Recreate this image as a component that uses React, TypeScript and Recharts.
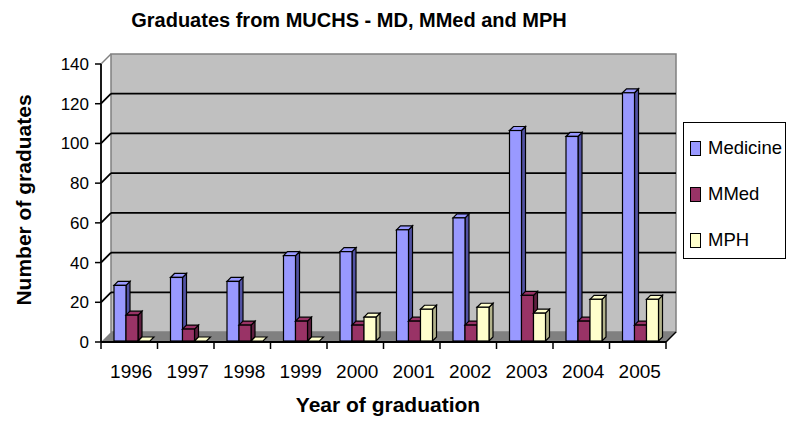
import React from 'react';
import { BarChart, Bar, XAxis, YAxis, CartesianGrid } from 'recharts';

const years = ['1996', '1997', '1998', '1999', '2000', '2001', '2002', '2003', '2004', '2005'];
const medicine = [28, 32, 30, 43, 45, 56, 62, 106, 103, 125];
const mmed = [13, 6, 8, 10, 8, 10, 8, 23, 10, 8];
const mph = [0, 0, 0, 0, 12, 16, 17, 14, 21, 21];
const yTicks = [0, 20, 40, 60, 80, 100, 120, 140];
const seriesNames = ['Medicine', 'MMed', 'MPH'];

const data = years.map((y, i) => ({ year: y, medicine: medicine[i], mmed: mmed[i], mph: mph[i] }));

const W = 800;
const H = 433;
const M = { top: 64, right: 134, bottom: 51, left: 0 };
const Y_AXIS_W = 101;
const X_AXIS_H = 40;
const PLOT_W = W - M.right - Y_AXIS_W - M.left;
const HALF_BAND = PLOT_W / years.length / 2;
const D = 10; // depth of the 3D box
const BD = 4; // depth of bars
const FONT = '"Liberation Sans", Arial, Helvetica, sans-serif';

const colors = [
  { front: '#9999FF', side: '#5252A3', top: '#9999FF' },
  { front: '#993366', side: '#5E1F3F', top: '#993366' },
  { front: '#FFFFCC', side: '#B3B38C', top: '#FFFFCC' },
];

const make3D = (c: { front: string; side: string; top: string }) => (props: any) => {
  const { x, y, width, height } = props;
  if (x == null || y == null) return <g />;
  const fx = x + 3;
  const fy = y - 1;
  const w = width;
  const h = Math.max(height || 0, 0);
  return (
    <g>
      {h > 0 && (
        <polygon
          points={`${fx + w},${fy} ${fx + w + BD},${fy - BD} ${fx + w + BD},${fy + h - BD} ${fx + w},${fy + h}`}
          fill={c.side}
          stroke="#000"
          strokeWidth={1.2}
        />
      )}
      <polygon
        points={`${fx},${fy} ${fx + BD},${fy - BD} ${fx + w + BD},${fy - BD} ${fx + w},${fy}`}
        fill={c.top}
        stroke="#000"
        strokeWidth={1.2}
      />
      {h > 0 && <rect x={fx} y={fy} width={w} height={h} fill={c.front} stroke="#000" strokeWidth={1.2} />}
    </g>
  );
};

const wallGrid = (p: any) => {
  if (p.index !== 0) return <g key={p.key} />;
  const { x, y, width, height } = p;
  const bottom = y + height;
  return (
    <g key={p.key}>
      <rect x={x + D} y={y - D} width={width} height={height} fill="#C0C0C0" stroke="#808080" strokeWidth={1.5} />
      <line x1={x} y1={y} x2={x + D} y2={y - D} stroke="#808080" strokeWidth={1.5} />
      <polygon
        points={`${x},${bottom} ${x + D},${bottom - D} ${x + width + D},${bottom - D} ${x + width},${bottom}`}
        fill="#808080"
      />
      <line x1={x + width} y1={bottom} x2={x + width + D} y2={bottom - D} stroke="#000" strokeWidth={1.5} />
    </g>
  );
};

const lineGrid = (p: any) => {
  const { x1, y1, x2, y, height } = p;
  const bottom = y + height;
  if (Math.abs(y1 - bottom) < 0.5 || Math.abs(y1 - y) < 0.5) return <g key={p.key} />;
  return (
    <g key={p.key}>
      <line x1={x1 + D} y1={y1 - D} x2={x2 + D} y2={y1 - D} stroke="#000" strokeWidth={1.8} />
      <line x1={x1} y1={y1} x2={x1 + D} y2={y1 - D} stroke="#000" strokeWidth={1.8} />
    </g>
  );
};

const XTick = (props: any) => {
  const { x, y, payload, index } = props;
  const last = index === years.length - 1;
  return (
    <g>
      <line x1={x - HALF_BAND} y1={y} x2={x - HALF_BAND} y2={y + 7} stroke="#000" strokeWidth={1.5} />
      {last && <line x1={x + HALF_BAND} y1={y} x2={x + HALF_BAND} y2={y + 7} stroke="#000" strokeWidth={1.5} />}
      <text x={x + 2} y={y + 36} textAnchor="middle" fontSize={19} fontFamily={FONT} fill="#000">
        {payload.value}
      </text>
    </g>
  );
};

export default function App() {
  return (
    <div style={{ position: 'absolute', left: 0, top: 0, width: W, height: H, background: '#fff', fontFamily: FONT }}>
      <BarChart width={W} height={H} data={data} margin={M} barGap={0} barSize={12}>
        <CartesianGrid vertical={false} horizontal={wallGrid} stroke="none" />
        <CartesianGrid vertical={false} horizontal={lineGrid} />
        <XAxis
          dataKey="year"
          height={X_AXIS_H}
          axisLine={{ stroke: '#000', strokeWidth: 1.8 }}
          tickLine={false}
          tickSize={0}
          tickMargin={0}
          tick={<XTick />}
          interval={0}
        />
        <YAxis
          width={Y_AXIS_W}
          domain={[0, 140]}
          ticks={yTicks}
          interval={0}
          axisLine={{ stroke: '#000', strokeWidth: 1.8 }}
          tickLine={{ stroke: '#000', strokeWidth: 1.5 }}
          tickSize={6}
          tickMargin={6}
          tick={{ fontSize: 17, fill: '#000', fontFamily: FONT }}
        />
        <Bar dataKey="medicine" name={seriesNames[0]} fill={colors[0].front} shape={make3D(colors[0])} isAnimationActive={false} />
        <Bar dataKey="mmed" name={seriesNames[1]} fill={colors[1].front} shape={make3D(colors[1])} isAnimationActive={false} />
        <Bar dataKey="mph" name={seriesNames[2]} fill={colors[2].front} shape={make3D(colors[2])} isAnimationActive={false} />
      </BarChart>

      <div
        style={{
          position: 'absolute', left: 0, top: 9, width: 698, textAlign: 'center',
          fontSize: 20, fontWeight: 'bold', color: '#000', whiteSpace: 'nowrap',
        }}
      >
        Graduates from MUCHS - MD, MMed and MPH
      </div>
      <div
        style={{
          position: 'absolute', left: 188, top: 393, width: 400, textAlign: 'center',
          fontSize: 21, fontWeight: 'bold', color: '#000', whiteSpace: 'nowrap',
        }}
      >
        Year of graduation
      </div>
      <div
        style={{
          position: 'absolute', left: 24 - 150, top: 200 - 13, width: 300, height: 26, lineHeight: '26px',
          textAlign: 'center', fontSize: 21, fontWeight: 'bold', color: '#000', whiteSpace: 'nowrap',
          transform: 'rotate(-90deg)', transformOrigin: '150px 13px',
        }}
      >
        Number of graduates
      </div>
      <div
        style={{
          position: 'absolute', left: 683, top: 122, width: 103, height: 137,
          border: '1.5px solid #000', background: '#fff', boxSizing: 'border-box',
        }}
      >
        {seriesNames.map((n, i) => (
          <div
            key={n}
            style={{ position: 'absolute', left: 6, top: 14 + i * 46, height: 22, display: 'flex', alignItems: 'center' }}
          >
            <span
              style={{
                display: 'inline-block', width: 9, height: 13, background: colors[i].front,
                border: '1.5px solid #000', marginRight: 7,
              }}
            />
            <span style={{ fontSize: 18.5, color: '#000', whiteSpace: 'nowrap' }}>{n}</span>
          </div>
        ))}
      </div>
    </div>
  );
}
